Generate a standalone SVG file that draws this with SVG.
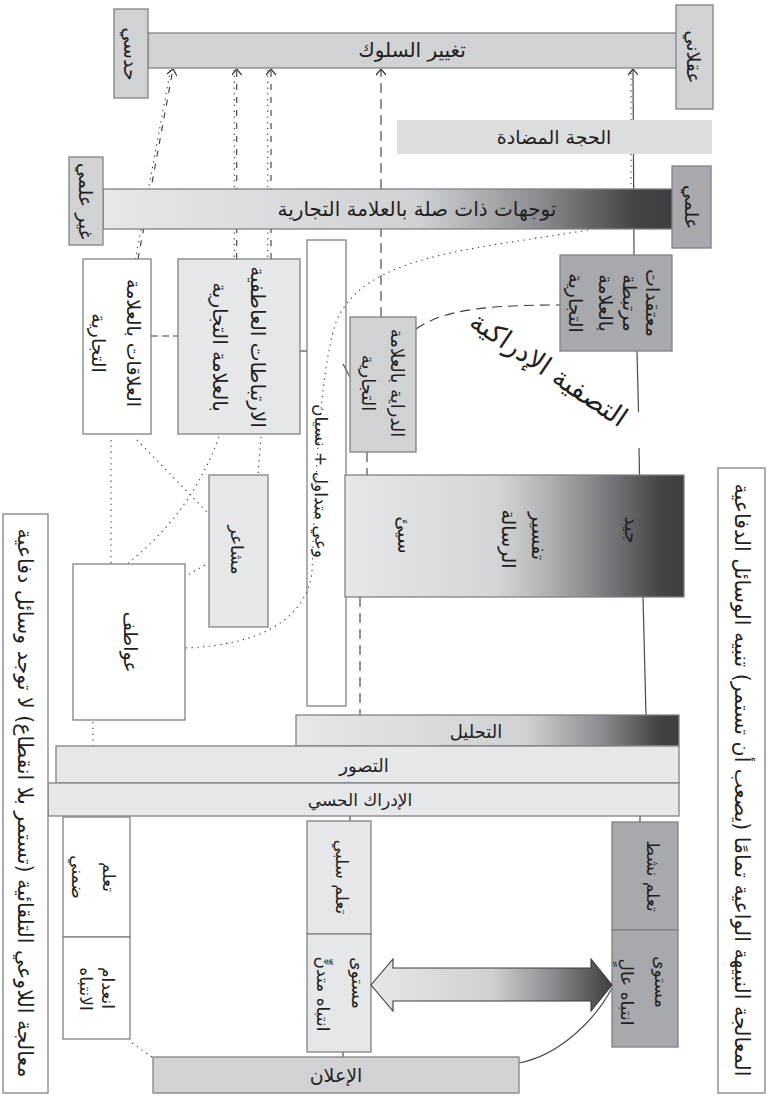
<svg xmlns="http://www.w3.org/2000/svg" width="769" height="1097" viewBox="0 0 769 1097">
<defs>
<linearGradient id="gOri" gradientUnits="userSpaceOnUse" x1="103" y1="0" x2="675" y2="0">
<stop offset="0" stop-color="#e6e7e8"/><stop offset="0.55" stop-color="#d0d1d3"/><stop offset="0.76" stop-color="#8c8d90"/><stop offset="0.93" stop-color="#434446"/><stop offset="1" stop-color="#3d3e40"/>
</linearGradient>
<linearGradient id="gMsg" gradientUnits="userSpaceOnUse" x1="345" y1="0" x2="684" y2="0">
<stop offset="0" stop-color="#e6e7e8"/><stop offset="0.45" stop-color="#d4d5d6"/><stop offset="0.6" stop-color="#b0b1b3"/><stop offset="0.8" stop-color="#707174"/><stop offset="0.93" stop-color="#444547"/><stop offset="1" stop-color="#3d3e40"/>
</linearGradient>
<linearGradient id="gAna" gradientUnits="userSpaceOnUse" x1="296" y1="0" x2="679" y2="0">
<stop offset="0" stop-color="#e6e7e8"/><stop offset="0.6" stop-color="#d0d1d3"/><stop offset="0.8" stop-color="#8a8b8e"/><stop offset="0.95" stop-color="#414244"/><stop offset="1" stop-color="#3d3e40"/>
</linearGradient>
<linearGradient id="gArr" gradientUnits="userSpaceOnUse" x1="371" y1="0" x2="612" y2="0">
<stop offset="0" stop-color="#e6e7e8"/><stop offset="0.5" stop-color="#cfd0d2"/><stop offset="0.75" stop-color="#8c8d90"/><stop offset="1" stop-color="#3d3e40"/>
</linearGradient>
<marker id="ah" viewBox="0 0 10 10" refX="10" refY="5" markerWidth="10" markerHeight="10" markerUnits="userSpaceOnUse" orient="auto">
<path d="M4,0 L10,5 L4,10" fill="none" stroke="#333" stroke-width="1.2"/>
</marker>
<style>
.t{font-family:"DejaVu Sans",sans-serif;fill:#231f20;text-anchor:middle;dominant-baseline:central;font-size:19px}
.m{font-size:17px}
.b1{fill:#e6e7e8;stroke:#808285;stroke-width:1.3}
.b2{fill:#d1d2d4;stroke:#808285;stroke-width:1.3}
.b3{fill:#a7a9ac;stroke:#808285;stroke-width:1.3}
.bw{fill:#fff;stroke:#808285;stroke-width:1.3}
.bn{fill:none;stroke:#808285;stroke-width:1.3}
.ln{fill:none;stroke:#3a3a3a;stroke-width:1.1}
.sl{fill:none;stroke:#4a4a4a;stroke-width:1.2}
.da{stroke-dasharray:10 6}
.dd{stroke-dasharray:6 7}
.dh{stroke-dasharray:7 4}
.dt{stroke-dasharray:1.3 4.5}
</style>
</defs>
<rect width="769" height="1097" fill="#fff"/>

<g id="connectors">
<path class="ln dt" d="M170.5,70 L135.5,259"/>
<path class="ln dd" d="M138,259 L173,69" marker-end="url(#ah)"/>
<path class="ln dt" d="M234.3,70 L234.3,259"/>
<path class="ln dd" d="M236.7,259 L236.7,69" marker-end="url(#ah)"/>
<path class="ln dt" d="M267.7,70 L267.7,259"/>
<path class="ln dd" d="M271,259 L271,69" marker-end="url(#ah)"/>
<path class="ln da" d="M381,317 L381,69" marker-end="url(#ah)"/>
<path class="sl" d="M634,255 L633,69" marker-end="url(#ah)"/>
<path class="ln dt" d="M631,190 L631,72"/>
<path class="sl" d="M637,351 L638.5,412"/>
<path class="sl" d="M639,448 L639.5,475"/>
<path class="sl" d="M643,597 L646,715"/>
<path class="ln da" d="M367,452 L367,475"/>
<path class="ln da" d="M360,597 L360,715"/>
<path class="ln da" d="M416,329 C440,313 470,305 560,305"/>
<path class="ln dh" d="M151,336 L178,336"/>
<path class="sl" d="M300,351 L307,351"/>
<path class="sl" d="M343,364 L350,377"/>
<path class="ln dt" d="M588,230 C470,250 360,255 335,325 C320,375 315,480 312,573 C305,620 260,645 185,648"/>
<path class="ln dt" d="M111,440 L111,563"/>
<path class="ln dt" d="M137,440 L207,512"/>
<path class="ln dt" d="M219,437 Q190,515 128,563"/>
<path class="ln dt" d="M261,437 L258,475"/>
<path class="ln dt" d="M205,565 L186,576"/>
<path class="ln dt" d="M93,722 L93,746"/>
<path class="sl" d="M640,816 L640,822"/>
<path class="sl" d="M350,816 L350,821"/>
<path class="sl" d="M343,1052 L343,1057"/>
<path class="ln dt" d="M132,1043 L152,1057"/>
<path class="sl" d="M519,1063 C560,1055 595,1020 612,988"/>
</g>

<g id="behaviour-change">
<rect class="b2" x="148" y="33" width="536" height="35"/>
<text class="t" style="font-size:20px" x="412" y="50">تغيير السلوك</text>
</g>
<g id="intuitive">
<rect class="b2" x="114" y="9" width="34" height="89"/>
<text class="t" transform="translate(131,54) rotate(90)">حدسي</text>
</g>
<g id="rational">
<rect class="b2" x="676" y="5" width="37" height="104"/>
<text class="t" transform="translate(694,57) rotate(90)">عقلاني</text>
</g>
<g id="counter-argument">
<rect x="397" y="120" width="315" height="34" fill="#dcddde"/>
<text class="t" x="554" y="137">الحجة المضادة</text>
</g>
<g id="brand-orientations">
<rect x="103" y="189" width="572" height="40" fill="url(#gOri)" stroke="#808285" stroke-width="1.3"/>
<text class="t" style="font-size:20px" x="417" y="209">توجهات ذات صلة بالعلامة التجارية</text>
</g>
<g id="unscientific">
<rect class="b2" x="69" y="157" width="34" height="88"/>
<text class="t" transform="translate(86,201) rotate(90)">غير علمي</text>
</g>
<g id="scientific">
<rect class="b3" x="672" y="166" width="39" height="82"/>
<text class="t" transform="translate(692,207) rotate(90)">علمي</text>
</g>
<g id="brand-relations">
<rect class="bw" x="83" y="259" width="68" height="175"/>
<text class="t" transform="translate(134,343) rotate(90)">العلاقات بالعلامة</text>
<text class="t" transform="translate(99,343) rotate(90)">التجارية</text>
</g>
<g id="emotional-associations">
<rect class="b1" x="178" y="259" width="122" height="175"/>
<text class="t" style="font-size:20px" transform="translate(258,347) rotate(90)">الارتباطات العاطفية</text>
<text class="t" style="font-size:20px" transform="translate(220,347) rotate(90)">بالعلامة التجارية</text>
</g>
<g id="awareness-forgetting">
<rect class="bn" x="307" y="240" width="39" height="466"/>
<text class="t m" transform="translate(321,481) rotate(90)">وعي متداول + نسيان</text>
</g>
<g id="brand-awareness">
<rect class="b2" x="350" y="317" width="66" height="135"/>
<text class="t" style="font-size:18px" transform="translate(397,383) rotate(90)">الدراية بالعلامة</text>
<text class="t" style="font-size:18px" transform="translate(368,383) rotate(90)">التجارية</text>
</g>
<g id="brand-beliefs">
<rect class="b3" x="560" y="255" width="112" height="96"/>
<text class="t" transform="translate(653,303) rotate(90)">معتقدات</text>
<text class="t" transform="translate(630,303) rotate(90)">مرتبطة</text>
<text class="t" transform="translate(606,303) rotate(90)">بالعلامة</text>
<text class="t" transform="translate(576,303) rotate(90)">التجارية</text>
</g>
<g id="perceptual-filtering">
<text class="t" style="font-size:27px" transform="translate(549,369) rotate(34)">التصفية الإدراكية</text>
</g>
<g id="message-interpretation">
<rect x="345" y="475" width="339" height="122" fill="url(#gMsg)" stroke="#808285" stroke-width="1.3"/>
<text class="t" transform="translate(632,530) rotate(90)">جيد</text>
<text class="t" transform="translate(539,536) rotate(90)">تفسير</text>
<text class="t" transform="translate(509,539) rotate(90)">الرسالة</text>
<text class="t" transform="translate(405,535) rotate(90)">سيئ</text>
</g>
<g id="feelings">
<rect class="b1" x="209" y="475" width="59" height="152"/>
<text class="t m" transform="translate(237,550) rotate(90)">مشاعر</text>
</g>
<g id="emotions">
<rect class="bw" x="73" y="564" width="112" height="156"/>
<text class="t" transform="translate(131,642) rotate(90)">عواطف</text>
</g>
<g id="analysis">
<rect x="296" y="715" width="383" height="31" fill="url(#gAna)" stroke="#808285" stroke-width="1.3"/>
<text class="t" style="font-size:18px" x="476" y="731">التحليل</text>
</g>
<g id="conception">
<rect class="b1" x="56" y="746" width="623" height="37"/>
<text class="t" style="font-size:18px" x="364" y="765">التصور</text>
</g>
<g id="sensory-perception">
<rect class="b1" x="48" y="783" width="631" height="33"/>
<text class="t m" x="360" y="800">الإدراك الحسي</text>
</g>
<g id="implicit-learning">
<rect class="bw" x="63" y="817" width="67" height="120"/>
<text class="t m" transform="translate(109,877) rotate(90)">تعلم</text>
<text class="t m" transform="translate(78,877) rotate(90)">ضمني</text>
</g>
<g id="no-attention">
<rect class="bw" x="63" y="937" width="67" height="102"/>
<text class="t m" transform="translate(108,988) rotate(90)">انعدام</text>
<text class="t m" transform="translate(86,989) rotate(90)">الانتباه</text>
</g>
<g id="passive-learning">
<rect class="b1" x="307" y="821" width="64" height="113"/>
<text class="t m" transform="translate(342,877) rotate(90)">تعلم سلبي</text>
</g>
<g id="low-attention">
<rect class="b1" x="307" y="934" width="64" height="118"/>
<text class="t m" transform="translate(358,983) rotate(90)">مستوى</text>
<text class="t m" transform="translate(323,994) rotate(90)">انتباه متدنٍّ</text>
</g>
<g id="active-learning">
<rect class="b3" x="612" y="822" width="66" height="108"/>
<text class="t m" transform="translate(653,876) rotate(90)">تعلم نشط</text>
</g>
<g id="high-attention">
<rect class="b3" x="612" y="930" width="66" height="117"/>
<text class="t m" transform="translate(661,982) rotate(90)">مستوى</text>
<text class="t m" transform="translate(627,992) rotate(90)">انتباه عالٍ</text>
</g>
<g id="attention-arrow">
<polygon points="371,985 393,959 393,968 591,968 591,959 612,985 591,1011 591,1001 393,1001 393,1011" fill="url(#gArr)" stroke="#3a3a3a" stroke-width="1.1"/>
</g>
<g id="advertising">
<rect class="b2" x="153" y="1057" width="366" height="36"/>
<text class="t" x="336" y="1075">الإعلان</text>
</g>
<g id="unconscious-processing">
<rect class="bw" x="3" y="514" width="45" height="579"/>
<text class="t" style="font-size:20.5px" transform="translate(25,803) rotate(90)">معالجة اللاوعي التلقائية (تستمر بلا انقطاع) لا توجد وسائل دفاعية</text>
</g>
<g id="conscious-processing">
<rect class="bw" x="718" y="468" width="47" height="625"/>
<text class="t" style="font-size:20.5px" transform="translate(742,780) rotate(90)">المعالجة النبيهة الواعية تمامًا (يصعب أن تستمر) تنبيه الوسائل الدفاعية</text>
</g>
</svg>
